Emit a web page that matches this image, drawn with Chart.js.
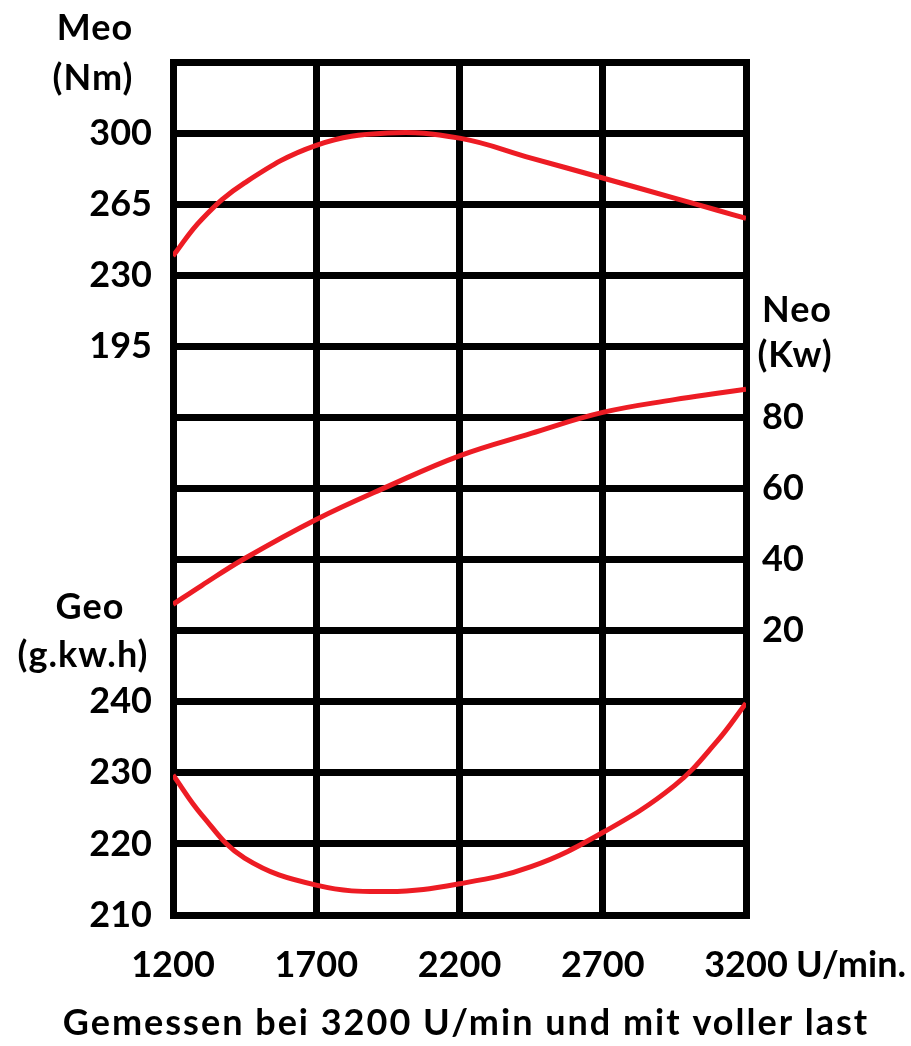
<!DOCTYPE html>
<html>
<head>
<meta charset="utf-8">
<script src="https://cdn.jsdelivr.net/npm/chart.js@4.4.0/dist/chart.umd.min.js"></script>
<style>
  body { margin: 0; background: #fff; }
</style>
</head>
<body>
<canvas id="engineChart" width="911" height="1046"></canvas>
<script>
// engine speed (U/min) of the curve points
var rpm = [1200, 1300, 1450, 1700, 1950, 2200, 2450, 2700, 2950, 3100, 3200];
// Meo - torque (Nm)
var meo = [239.5, 257.5, 275.5, 294, 300, 297.5, 287.7, 277.9, 268, 262, 258];
// Neo - power (Kw)
var neo = [27.4, 32.7, 40.3, 51.3, 60.6, 69.2, 75.5, 81.4, 85, 86.8, 87.9];
// Geo - fuel consumption (g.kw.h)
var geo = [229.7, 224.1, 218, 214.2, 213.3, 214.4, 216.8, 221.6, 228.2, 234.5, 239.8];

var xTicks = [1200, 1700, 2200, 2700, 3200];
var meoTicks = [300, 265, 230, 195];
var neoTicks = [80, 60, 40, 20];
var geoTicks = [240, 230, 220, 210];

// the grid has 12 rows, each scale starts labelling at a given row line
var rows = 12;
var meoRow = 1, neoRow = 5, geoRow = 9;

function range(ticks, row) {
    var step = ticks[0] - ticks[1];
    var max = ticks[0] + row * step;
    return {min: max - rows * step, max: max};
}
var meoRange = range(meoTicks, meoRow);
var neoRange = range(neoTicks, neoRow);
var geoRange = range(geoTicks, geoRow);

function points(vals) {
    return rpm.map(function (r, i) { return {x: r, y: vals[i]}; });
}

var RED = '#ed1c24';
var FONT = {family: 'Lato', weight: 'bold', size: 36};

function lineSet(label, vals, axis) {
    return {
        label: label,
        data: points(vals),
        yAxisID: axis,
        borderColor: RED,
        borderWidth: 5,
        pointRadius: 0,
        tension: 0.4,
        fill: false
    };
}

// axis titles + footer
var extraText = {
    id: 'extraText',
    afterDraw: function (chart) {
        var ctx = chart.ctx;
        var a = chart.chartArea;
        ctx.save();
        ctx.fillStyle = '#000';
        ctx.font = 'bold 36px Lato';
        ctx.textBaseline = 'middle';
        ctx.textAlign = 'center';
        ctx.letterSpacing = '1px';
        ctx.fillText('Meo', a.left - 78, 28);
        ctx.fillText('(Nm)', a.left - 80, 78);
        ctx.fillText('Geo', a.left - 83, 607);
        ctx.fillText('(g.kw.h)', a.left - 90, 655);
        ctx.fillText('Neo', a.right + 51, 310);
        ctx.fillText('(Kw)', a.right + 49, 355);
        ctx.letterSpacing = '2px';
        ctx.fillText('Gemessen bei 3200 U/min und mit voller last', 466, 1023);
        ctx.letterSpacing = '0px';
        ctx.textAlign = 'left';
        var xs = chart.scales.x;
        ctx.fillText('U/min.', xs.getPixelForValue(3200) + 50, 965);
        ctx.restore();
    }
};

var ctx = document.getElementById('engineChart');
var chart = new Chart(ctx, {
    type: 'line',
    data: {
        datasets: [
            lineSet('Meo (Nm)', meo, 'yM'),
            lineSet('Neo (Kw)', neo, 'yN'),
            lineSet('Geo (g.kw.h)', geo, 'yG')
        ]
    },
    options: {
        responsive: false,
        animation: false,
        layout: {padding: {top: 62, left: 0, right: 0, bottom: 0}},
        plugins: {legend: {display: false}, tooltip: {enabled: false}},
        scales: {
            x: {
                type: 'linear',
                min: 1200,
                max: 3200,
                afterBuildTicks: function (s) { s.ticks = xTicks.map(function (v) { return {value: v}; }); },
                grid: {color: '#000', lineWidth: 7, drawTicks: false},
                border: {color: '#000', width: 7},
                ticks: {
                    color: '#000',
                    font: FONT,
                    padding: 29,
                    maxRotation: 0,
                    autoSkip: false,
                    callback: function (v) { return String(v); }
                },
                afterFit: function (s) { s.height = 131; }
            },
            y: {
                position: 'left',
                reverse: true,
                min: 0,
                max: rows,
                grid: {color: '#000', lineWidth: 7, drawTicks: false},
                border: {color: '#000', width: 7},
                ticks: {
                    stepSize: 1,
                    autoSkip: false,
                    color: '#000',
                    font: FONT,
                    padding: 21,
                    callback: function (v) {
                        if (v >= meoRow && v < meoRow + meoTicks.length) return meoTicks[v - meoRow];
                        if (v >= geoRow && v < geoRow + geoTicks.length) return geoTicks[v - geoRow];
                        return '';
                    }
                },
                afterFit: function (s) { s.width = 173; }
            },
            y2: {
                position: 'right',
                reverse: true,
                min: 0,
                max: rows,
                grid: {display: false, drawTicks: false},
                border: {display: true, color: '#000', width: 7},
                ticks: {
                    stepSize: 1,
                    autoSkip: false,
                    color: '#000',
                    font: FONT,
                    padding: 16,
                    callback: function (v) {
                        if (v >= neoRow && v < neoRow + neoTicks.length) return neoTicks[v - neoRow];
                        return '';
                    }
                },
                afterFit: function (s) { s.width = 165; }
            },
            yM: {display: false, min: meoRange.min, max: meoRange.max},
            yN: {display: false, min: neoRange.min, max: neoRange.max},
            yG: {display: false, min: geoRange.min, max: geoRange.max}
        }
    },
    plugins: [extraText]
});
</script>
</body>
</html>
